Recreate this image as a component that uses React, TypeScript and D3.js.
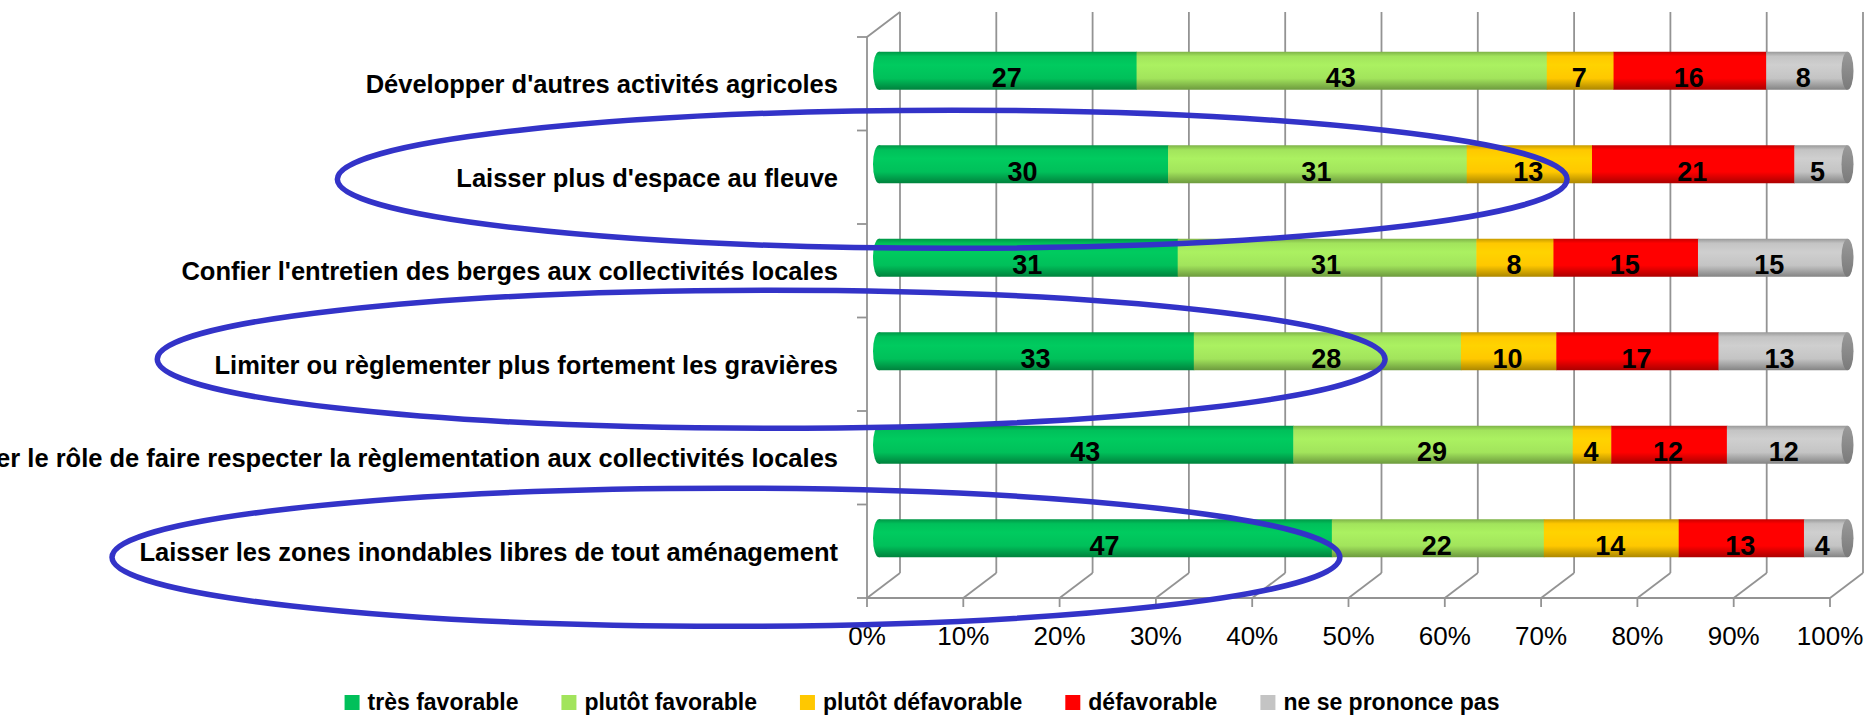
import { useEffect, useRef } from 'react';
import * as d3 from 'd3';

const categories = [
  "Développer d'autres activités agricoles",
  "Laisser plus d'espace au fleuve",
  "Confier l'entretien des berges aux collectivités locales",
  'Limiter ou règlementer plus fortement les gravières',
  'Confier le rôle de faire respecter la règlementation aux collectivités locales',
  'Laisser les zones inondables libres de tout aménagement',
];

const seriesNames = ['très favorable', 'plutôt favorable', 'plutôt défavorable', 'défavorable', 'ne se prononce pas'];
const tresFavorable = [27, 30, 31, 33, 43, 47];
const plutotFavorable = [43, 31, 31, 28, 29, 22];
const plutotDefavorable = [7, 13, 8, 10, 4, 14];
const defavorable = [16, 21, 15, 17, 12, 13];
const nePrononcePas = [8, 5, 15, 13, 12, 4];
const seriesColors = ['#00c05a', '#a2e45c', '#ffc800', '#ff0000', '#c4c4c4'];

const xTicks = [0, 0.1, 0.2, 0.3, 0.4, 0.5, 0.6, 0.7, 0.8, 0.9, 1];

// hand-drawn highlight ellipses: category, x extent (share of axis), vertical nudge
const highlights = [
  { category: 1, from: -0.55, to: 0.727, dy: 15 },
  { category: 3, from: -0.737, to: 0.538, dy: 8 },
  { category: 5, from: -0.784, to: 0.491, dy: 19 },
];

const W = 1866;
const H = 715;
const FONT = "'Liberation Sans Narrow', 'Arial Narrow', sans-serif";

export default function App() {
  const svgRef = useRef<SVGSVGElement>(null);

  useEffect(() => {
    const svg = d3.select(svgRef.current);
    svg.selectAll('*').remove();

    const series = [tresFavorable, plutotFavorable, plutotDefavorable, defavorable, nePrononcePas];
    const rows = categories.map((name, i) => {
      const vals = series.map(s => s[i]);
      const total = d3.sum(vals);
      let acc = 0;
      const segs = vals.map((v, k) => {
        const s = { key: k, value: v, x0: acc / total, x1: (acc + v) / total };
        acc += v;
        return s;
      });
      return { name, segs };
    });

    // front plane and depth offset of the 3-D box
    const xFront = d3.scaleLinear().domain([0, 1]).range([867, 1830]);
    const xBar = d3.scaleLinear().domain([0, 1]).range([878, 1841.5]);
    const DX = 33;
    const DY = -25;
    const y = d3.scaleBand<string>().domain(categories).range([37, 598]).paddingInner(0);
    const bw = y.bandwidth();
    const barH = 38;
    const barCenter = (c: string) => (y(c) ?? 0) + bw / 2 - 13;
    const yFloor = 598;
    const yTop = 37;

    const defs = svg.append('defs');
    seriesColors.forEach((c, k) => {
      const g = defs.append('linearGradient').attr('id', `cyl${k}`).attr('x1', 0).attr('x2', 0).attr('y1', 0).attr('y2', 1);
      const base = d3.color(c)!;
      g.append('stop').attr('offset', '0%').attr('stop-color', base.darker(0.7).formatHex());
      g.append('stop').attr('offset', '12%').attr('stop-color', base.formatHex());
      g.append('stop').attr('offset', '35%').attr('stop-color', base.brighter(0.15).formatHex());
      g.append('stop').attr('offset', '70%').attr('stop-color', base.formatHex());
      g.append('stop').attr('offset', '100%').attr('stop-color', base.darker(1.1).formatHex());
    });
    const capGrad = defs.append('linearGradient').attr('id', 'cap').attr('x1', 0).attr('x2', 0).attr('y1', 0).attr('y2', 1);
    capGrad.append('stop').attr('offset', '0%').attr('stop-color', '#9a9a9a');
    capGrad.append('stop').attr('offset', '100%').attr('stop-color', '#7a7a7a');

    const grid = svg.append('g').attr('stroke', '#939393').attr('stroke-width', 1.8).attr('fill', 'none');

    // back wall verticals
    grid.selectAll('line.back').data(xTicks).join('line')
      .attr('x1', d => xFront(d) + DX).attr('x2', d => xFront(d) + DX)
      .attr('y1', yTop + DY).attr('y2', yFloor + DY);
    // floor diagonals
    grid.selectAll('line.floor').data(xTicks).join('line')
      .attr('x1', d => xFront(d)).attr('x2', d => xFront(d) + DX)
      .attr('y1', yFloor).attr('y2', yFloor + DY);
    // front floor edge + ticks
    grid.append('line').attr('x1', xFront(0)).attr('x2', xFront(1)).attr('y1', yFloor).attr('y2', yFloor);
    grid.selectAll('line.xtick').data(xTicks).join('line')
      .attr('x1', d => xFront(d)).attr('x2', d => xFront(d))
      .attr('y1', yFloor).attr('y2', yFloor + 9);
    // left wall
    grid.append('path').attr('d', `M${xFront(0)},${yFloor}V${yTop}L${xFront(0) + DX},${yTop + DY}`);
    const bounds = categories.map(c => y(c) ?? 0).concat([yFloor]);
    grid.selectAll('line.ytick').data(bounds).join('line')
      .attr('x1', xFront(0) - 10).attr('x2', xFront(0))
      .attr('y1', d => d).attr('y2', d => d);

    // bars (cylinders)
    const bars = svg.append('g');
    rows.forEach(r => {
      const cy = barCenter(r.name);
      const top = cy - barH / 2;
      const g = bars.append('g');
      g.append('ellipse')
        .attr('cx', xBar(0) + 1).attr('cy', cy).attr('rx', 6).attr('ry', barH / 2)
        .attr('fill', `url(#cyl${r.segs[0].key})`);
      g.selectAll('rect').data(r.segs).join('rect')
        .attr('x', d => xBar(d.x0) + 1)
        .attr('y', top)
        .attr('width', (d, i) => xBar(d.x1) - xBar(d.x0) + (i === r.segs.length - 1 ? 5 : 0.5))
        .attr('height', barH)
        .attr('fill', d => `url(#cyl${d.key})`);
      g.append('ellipse')
        .attr('cx', xBar(1) + 6).attr('cy', cy).attr('rx', 6).attr('ry', barH / 2)
        .attr('fill', 'url(#cap)');
      g.selectAll('text').data(r.segs).join('text')
        .attr('x', d => xBar((d.x0 + d.x1) / 2))
        .attr('y', cy + 7)
        .attr('dy', '0.35em')
        .attr('text-anchor', 'middle')
        .attr('font-family', FONT)
        .attr('font-weight', 'bold')
        .attr('font-size', 27)
        .attr('fill', '#000')
        .text(d => d.value);
    });

    // category labels
    svg.append('g').selectAll('text').data(categories).join('text')
      .attr('x', 838)
      .attr('y', d => (y(d) ?? 0) + bw / 2)
      .attr('dy', '0.38em')
      .attr('text-anchor', 'end')
      .attr('font-family', FONT)
      .attr('font-weight', 'bold')
      .attr('font-size', 25.5)
      .attr('fill', '#000')
      .text(d => d);

    // x tick labels
    svg.append('g').selectAll('text').data(xTicks).join('text')
      .attr('x', d => xFront(d))
      .attr('y', 645)
      .attr('text-anchor', 'middle')
      .attr('font-family', FONT)
      .attr('font-size', 26)
      .attr('fill', '#000')
      .text(d => d3.format('.0%')(d));

    // legend
    const legend = svg.append('g');
    let lx = 0;
    const items = seriesNames.map((n, k) => {
      const it = legend.append('g').attr('transform', `translate(${lx},0)`);
      it.append('rect').attr('x', 0).attr('y', 695).attr('width', 15).attr('height', 15).attr('fill', seriesColors[k]);
      const t = it.append('text').attr('x', 23).attr('y', 710)
        .attr('font-family', FONT).attr('font-weight', 'bold').attr('font-size', 23).attr('fill', '#000').text(n);
      const w = 23 + (t.node() as SVGTextElement).getComputedTextLength();
      const item = { g: it, x: lx, w };
      lx += w + 43;
      return item;
    });
    const total = lx - 43;
    const start = 922 - total / 2;
    items.forEach(it => it.g.attr('transform', `translate(${start + it.x},0)`));

    // highlight ellipses
    svg.append('g').selectAll('ellipse').data(highlights).join('ellipse')
      .attr('cx', d => (xFront(d.from) + xFront(d.to)) / 2)
      .attr('cy', d => barCenter(categories[d.category]) + d.dy)
      .attr('rx', d => (xFront(d.to) - xFront(d.from)) / 2)
      .attr('ry', 69)
      .attr('fill', 'none')
      .attr('stroke', '#3333c8')
      .attr('stroke-width', 5.5);
  }, []);

  return (
    <div style={{ position: 'absolute', left: 0, top: 0, width: W, height: H, background: '#fff' }}>
      <svg ref={svgRef} width={W} height={H} style={{ display: 'block' }} />
    </div>
  );
}
